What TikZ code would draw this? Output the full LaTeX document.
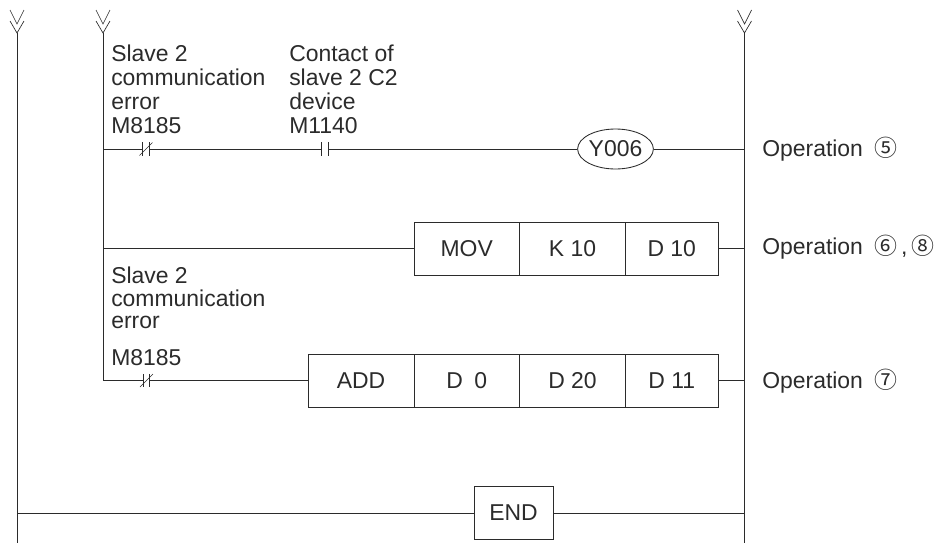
\documentclass[tikz,border=0pt]{standalone}
\usepackage{fontspec}
\setmainfont{Liberation Sans}
\newfontfamily\circfont{Noto Sans CJK JP}
\usetikzlibrary{shapes.geometric}
\definecolor{ink}{HTML}{2B2B2B}
\tikzset{
  x=0.75pt,y=-0.75pt,
  wire/.style={draw=ink,line width=0.65pt},
  cell/.style={draw=ink,line width=0.65pt,rectangle,inner sep=0pt,minimum height=39.75pt,font=\fontsize{17.2}{18}\selectfont,text=ink},
  lbl/.style={align=left,anchor=north west,inner sep=0pt,text=ink,font=\fontsize{17.2}{18}\selectfont},
  oplabel/.style={anchor=west,inner sep=0pt,text=ink,font=\fontsize{17.2}{18}\selectfont},
  coil/.style={draw=ink,line width=0.65pt,ellipse,inner sep=0pt,minimum width=54.75pt,minimum height=30pt,text=ink,font=\fontsize{17.2}{18}\selectfont},
  contact/.style={rectangle,inner sep=0pt,minimum width=4.5pt,minimum height=9.5pt}
}
\newcommand{\chev}[1]{%
  \draw[wire,line width=0.5pt] ([shift={(-7,-23)}]#1) -- ([shift={(0,-9)}]#1) -- ([shift={(7,-23)}]#1);
  \draw[wire,line width=0.5pt] ([shift={(-7,-12)}]#1) -- (#1) -- ([shift={(7,-12)}]#1);
}
\newcommand{\nobars}[1]{%
  \draw[wire] (#1.north west) -- (#1.south west);
  \draw[wire] (#1.north east) -- (#1.south east);
}
\newcommand{\slashbar}[1]{%
  \draw[wire,line width=0.5pt] ([shift={(-6.5,6.5)}]#1.center) -- ([shift={(6.5,-6.5)}]#1.center);
}
\begin{document}
\begin{tikzpicture}
\useasboundingbox (0,0) rectangle (939,543);
% rails
\coordinate (railAtop) at (17,33); \coordinate (railAbot) at (17,543);
\coordinate (railBtop) at (103,33); \coordinate (railBbot) at (103,380.5);
\coordinate (railCtop) at (744.5,33); \coordinate (railCbot) at (744.5,543);
\draw[wire] (railAtop) -- (railAbot);
\draw[wire] (railBtop) -- (railBbot);
\draw[wire] (railCtop) -- (railCbot);
\chev{railAtop}\chev{railBtop}\chev{railCtop}
\coordinate (r1L) at (103,149); \coordinate (r1R) at (744.5,149);
\coordinate (r2L) at (103,248.5); \coordinate (r2R) at (744.5,248.5);
\coordinate (r3L) at (103,380.5); \coordinate (r3R) at (744.5,380.5);
\coordinate (r4L) at (17,513);  \coordinate (r4R) at (744.5,513);
% labels
\node[lbl] (t1) at (111,45) {Slave 2\\communication\\error\\M8185};
\node[lbl] (t2) at (289,45) {Contact of\\slave 2 C2\\device\\M1140};
\node[lbl] (t3) at (111,267) {Slave 2\\[-1.1pt]communication\\[-1.1pt]error};
\node[lbl] (t4) at (111,349) {M8185};
% rung 1
\node[contact] (c1) at (146,149) {};
\node[contact] (c2) at (325,149) {};
\node[coil] (y6) at (615.5,149) {Y006};
\draw[wire] (r1L) -- (c1.west);
\draw[wire] (c1.east) -- (c2.west);
\draw[wire] (c2.east) -- (y6.west);
\draw[wire] (y6.east) -- (r1R);
\nobars{c1}\slashbar{c1}\nobars{c2}
% rung 2
\node[cell,minimum width=79.1pt] (mov) at (466.75,248.5) {MOV};
\node[cell,minimum width=79.5pt] (k10) at (572.5,248.5) {K 10};
\node[cell,minimum width=69.4pt] (d10) at (671.75,248.5) {D 10};
\draw[wire] (r2L) -- (mov.west);
\draw[wire] (d10.east) -- (r2R);
% rung 3
\node[contact] (c3) at (146.5,380.5) {};
\node[cell,minimum width=79.5pt] (add) at (361,380.5) {ADD};
\node[cell,minimum width=79.1pt] (d0) at (466.75,380.5) {D\hspace{0.5em}0};
\node[cell,minimum width=79.5pt] (d20) at (572.5,380.5) {D 20};
\node[cell,minimum width=69.4pt] (d11) at (671.75,380.5) {D 11};
\draw[wire] (r3L) -- (c3.west);
\draw[wire] (c3.east) -- (add.west);
\draw[wire] (d11.east) -- (r3R);
\nobars{c3}\slashbar{c3}
% END
\node[cell,minimum width=59.25pt] (endb) at (513.5,513) {END};
\draw[wire] (r4L) -- (endb.west);
\draw[wire] (endb.east) -- (r4R);
% operations
\node[oplabel] (o5) at (762,149.5) {Operation\hspace{0.5em}{\circfont ⑤}};
\node[oplabel] (o6) at (762,247.5) {Operation\hspace{0.5em}{\circfont ⑥}\,,\,{\circfont ⑧}};
\node[oplabel] (o7) at (762,381) {Operation\hspace{0.5em}{\circfont ⑦}};
\end{tikzpicture}
\end{document}
